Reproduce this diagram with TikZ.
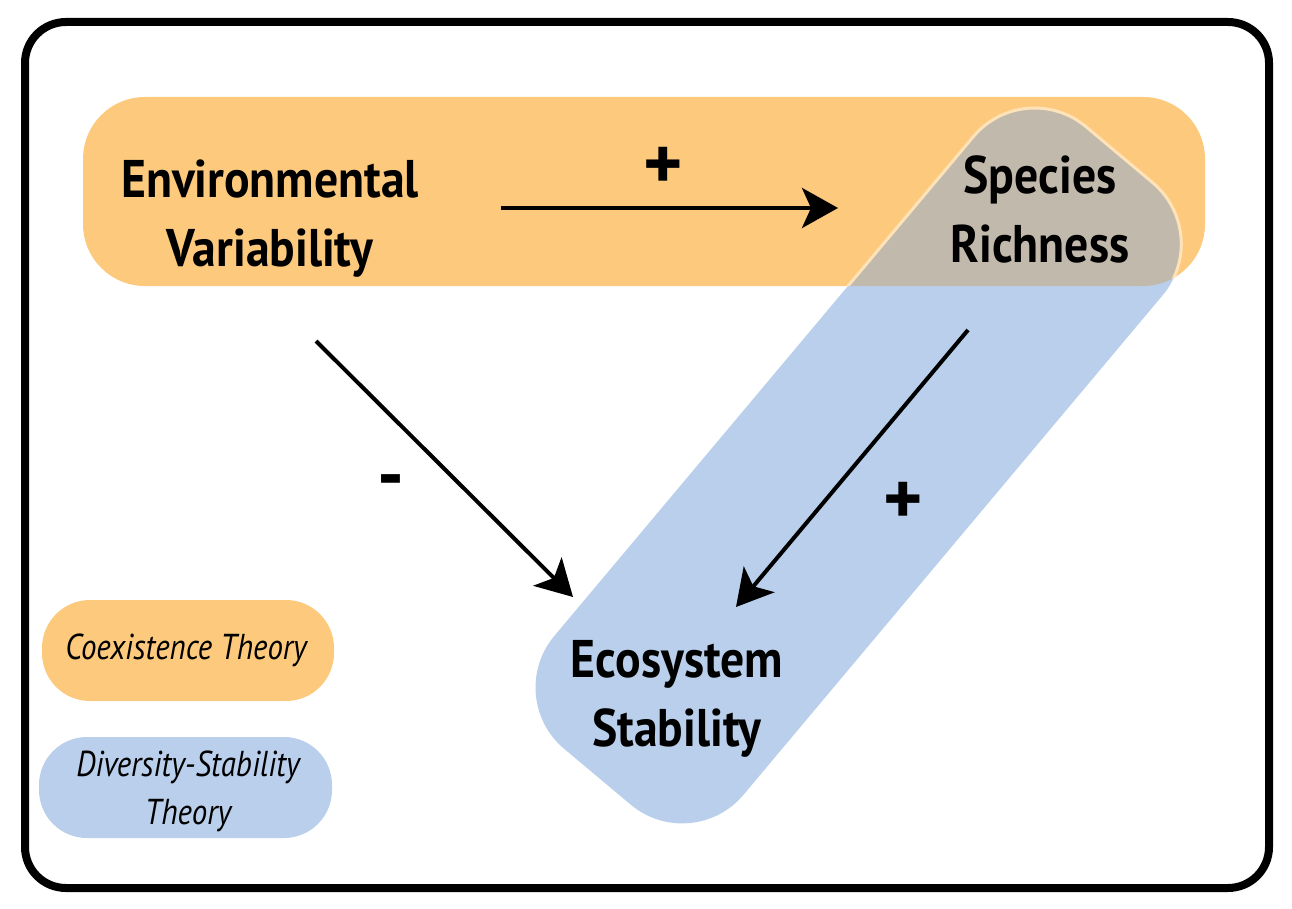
\documentclass[tikz,border=0pt]{standalone}
\usepackage{fontspec}
\setmainfont{PT Sans}
\newfontfamily\labfont[FakeStretch=0.9]{PT Sans}
\newfontfamily\legfont[FakeStretch=0.86]{PT Sans}
\usetikzlibrary{arrows.meta}
\definecolor{orangeband}{RGB}{253,201,125}
\definecolor{blueband}{RGB}{185,207,235}
\definecolor{overlapc}{RGB}{194,185,173}
\definecolor{palec}{RGB}{254,226,184}
\tikzset{
  mainlab/.style={font=\labfont\bfseries\fontsize{53}{69}\selectfont, align=center, inner sep=0pt},
  leglab/.style={font=\legfont\itshape\fontsize{36}{48}\selectfont, align=center, inner sep=0pt},
  signlab/.style={font=\bfseries\fontsize{75}{75}\selectfont, inner sep=0pt},
  conn/.style={line width=4pt, -{Stealth[length=36pt,width=40pt,inset=9pt]}},
  frame/.style={line width=8pt, rounded corners=41pt},
}
\begin{document}
\begin{tikzpicture}[x=1pt,y=-1pt]
\useasboundingbox (0,0) rectangle (1292,909);
\fill[white] (0,0) rectangle (1292,909);
% orange band
\fill[orangeband, rounded corners=62pt] (83,97) rectangle (1205,286);
% blue band
\fill[blueband, shift={(858.4,465.7)}, rotate=50, rounded corners=80pt] (-406,-123.5) rectangle (406,123.5);
\begin{scope}
  \clip[rounded corners=62pt] (83,97) rectangle (1205,286);
  \fill[overlapc, shift={(858.4,465.7)}, rotate=50, rounded corners=80pt] (-406,-123.5) rectangle (406,123.5);
  \draw[palec, line width=3pt, shift={(858.4,465.7)}, rotate=50, rounded corners=80pt] (-406,-123.5) rectangle (406,123.5);
\end{scope}
% legend
\fill[orangeband, rounded corners=48pt] (42,600) rectangle (334,701);
\fill[blueband, rounded corners=48pt] (39,737) rectangle (332,838);
\node[leglab] (coex) at (186,650) {Coexistence Theory};
\node[leglab] (divst) at (188,791) {Diversity-Stability\\Theory};
% frame
\draw[frame] (25,22) rectangle (1269,888);
% main nodes
\node[mainlab] (ev) at (270,219) {Environmental\\Variability};
\node[mainlab] (sr) at (1040,209) {Species\\Richness};
\node[mainlab] (es) at (677,699) {Ecosystem\\Stability};
% arrow end points
\coordinate (a1s) at (501,208);
\coordinate (a1e) at (838,208);
\coordinate (a2s) at (316,341);
\coordinate (a2e) at (573,597);
\coordinate (a3s) at (968,330);
\coordinate (a3e) at (736,607);
\draw[conn] (a1s) -- (a1e);
\draw[conn] (a2s) -- (a2e);
\draw[conn] (a3s) -- (a3e);
% signs
\node[signlab] (p1) at (663,168) {+};
\node[signlab] (p2) at (903,503) {+};
\node[signlab, anchor=base] (m1) at (391,500) {-};
\end{tikzpicture}
\end{document}
